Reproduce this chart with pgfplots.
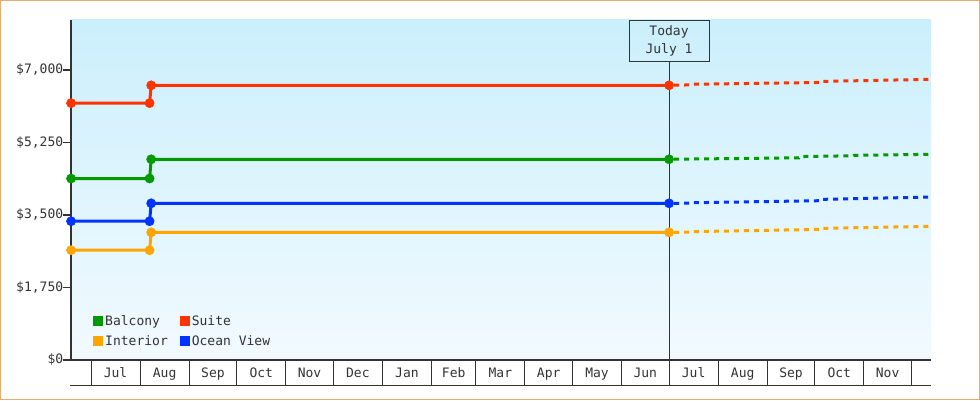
\documentclass[border=0pt]{standalone}
\usepackage{pgfplots}
\pgfplotsset{compat=1.18}
\usepackage{fontspec}
\setmainfont{DejaVu Sans Mono}

\definecolor{ink}{HTML}{333333}
\definecolor{bgtop}{HTML}{CBEFFC}
\definecolor{bgbot}{HTML}{F2FAFF}
\definecolor{frame}{HTML}{E9AD6B}
\definecolor{suite}{HTML}{FF3300}
\definecolor{balcony}{HTML}{009900}
\definecolor{ocean}{HTML}{0033FF}
\definecolor{interior}{HTML}{FFA500}

\pgfplotsset{hist/.style={mark=*, mark size=4.6pt,
  mark options={solid, line width=0.5pt}}}

\begin{document}
\begin{tikzpicture}[font=\fontsize{13}{18}\selectfont]
\begin{axis}[
  scale only axis, width=860pt, height=340pt,
  xmin=-12.63, xmax=530.4, ymin=0, ymax=8207,
  clip=false,
  axis lines*=left,
  axis line style={draw=ink, line width=1.5pt},
  axis background/.style={top color=bgtop, bottom color=bgbot},
  tick align=outside,
  xtick={0,31,62,92,123,153,184,215,243,274,304,335,365,396,427,457,488,518},
  xticklabels={Jul,Aug,Sep,Oct,Nov,Dec,Jan,Feb,Mar,Apr,May,Jun,Jul,Aug,Sep,Oct,Nov},
  x tick label as interval,
  x tick style={draw=ink, line width=1pt, /pgfplots/major tick length=25pt},
  xticklabel style={text=ink},
  ytick={0,1750,3500,5250,7000},
  yticklabels={{\$0},{\$1,750},{\$3,500},{\$5,250},{\$7,000}},
  y tick style={draw=ink, line width=1.5pt, /pgfplots/major tick length=8pt},
  yticklabel style={text=ink},
  legend columns=2,
  legend cell align=left,
  legend style={at={(0.0256,0.138)}, anchor=north west, draw=none, fill=none,
    inner sep=0pt, text=ink, row sep=5pt,
    /tikz/every even column/.append style={column sep=10pt}},
  legend image code/.code={\fill[#1, draw=none] (0pt,-5pt) rectangle (10pt,5pt);},
  every axis plot/.append style={line width=3pt},
]
% solid history
\addplot[balcony, hist] coordinates {(-12.6,4380) (37,4380) (38,4845) (365,4845)};
\addlegendentry{Balcony}
\addplot[suite, hist] coordinates {(-12.6,6200) (37,6200) (38,6630) (365,6630)};
\addlegendentry{Suite}
\addplot[interior, hist] coordinates {(-12.6,2650) (37,2650) (38,3082) (365,3082)};
\addlegendentry{Interior}
\addplot[ocean, hist] coordinates {(-12.6,3350) (37,3350) (38,3782) (365,3782)};
\addlegendentry{Ocean View}
% projections
\addplot[balcony, dash pattern=on 5pt off 5pt, dash phase=-5pt, forget plot] coordinates
  {(365,4845) (447,4880) (447.5,4910) (481,4930) (481.5,4940) (530.4,4965)};
\addplot[suite, dash pattern=on 5pt off 5pt, dash phase=-5pt, forget plot] coordinates
  {(365,6630) (378,6640) (378.5,6655) (461.5,6700) (462,6725) (530.4,6775)};
\addplot[interior, dash pattern=on 5pt off 5pt, dash phase=-5pt, forget plot] coordinates
  {(365,3082) (378,3085) (378.5,3097) (461.5,3154) (462,3178) (530.4,3227)};
\addplot[ocean, dash pattern=on 5pt off 5pt, dash phase=-5pt, forget plot] coordinates
  {(365,3782) (378,3785) (378.5,3795) (461.5,3846) (462,3878) (530.4,3934)};
% today marker
\draw[ink, line width=1pt] (axis cs:365,0) -- (axis cs:365,7224);
\node[draw=ink, line width=1pt, minimum width=80pt, minimum height=40.7pt, inner sep=0pt,
  anchor=north] at (axis cs:365,8207) {};
\node[align=center, anchor=north, text=ink, inner sep=0pt, yshift=-5pt]
  at (axis cs:365,8207) {Today\\July 1};
% month box bottom line and outer frame
\draw[ink, line width=1pt] (rel axis cs:0,0) ++(-1pt,-25pt) -- ++(861pt,0pt);
\draw[frame, line width=1pt] (rel axis cs:0,0) ++(-70.5pt,-39.5pt) rectangle ++(979pt,399pt);
\end{axis}
\end{tikzpicture}
\end{document}
